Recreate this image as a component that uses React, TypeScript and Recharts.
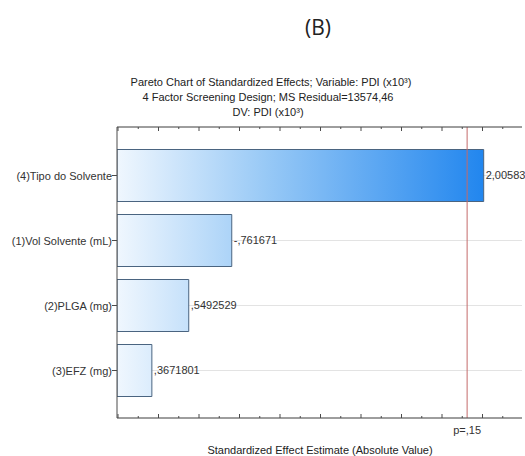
import {
  BarChart,
  Bar,
  XAxis,
  YAxis,
  CartesianGrid,
  ReferenceLine,
  LabelList,
} from 'recharts'

const categories = ['(4)Tipo do Solvente', '(1)Vol Solvente (mL)', '(2)PLGA (mg)', '(3)EFZ (mg)']
const effects = [2.00583, 0.761671, 0.5492529, 0.3671801]
const effectLabels = ['2,00583', '-,761671', ',5492529', ',3671801']
const pCritical = 1.924
const xDomain = [0.195, 2.195]
const xTicks = [0.2, 0.3, 0.4, 0.5, 0.6, 0.7, 0.8, 0.9, 1.0, 1.1, 1.2, 1.3, 1.4, 1.5, 1.6, 1.7, 1.8, 1.9, 2.0, 2.1]

const data = categories.map((name, i) => ({ name, value: effects[i], label: effectLabels[i] }))

const FONT = '"Liberation Sans", Arial, sans-serif'
const AXIS = '#4a4a4a'

const isMajor = (v: number) => Math.round(v * 10) % 2 === 0

// statistica style: no labels, short ticks pointing into the plot
const bottomTick = ({ x, y, payload }: any) => (
  <line x1={x} x2={x} y1={y} y2={y - (isMajor(payload.value) ? 4 : 2)} stroke={AXIS} />
)

const topTick = ({ x, y, payload }: any) => (
  <line x1={x} x2={x} y1={y} y2={y + (isMajor(payload.value) ? 4 : 2)} stroke={AXIS} />
)

const categoryTick = ({ x, y, payload }: any) => (
  <text x={x} y={y} dy={4} textAnchor="end" fill="#333" fontSize={11} fontFamily={FONT}>
    {payload.value}
  </text>
)

function centered(text: any, cx: number, top: number, size: number, family = FONT) {
  return (
    <div
      style={{
        position: 'absolute',
        left: cx - 200,
        width: 400,
        top,
        textAlign: 'center',
        fontFamily: family,
        fontSize: size,
        color: '#222',
        lineHeight: 1,
        whiteSpace: 'nowrap',
      }}
    >
      {text}
    </div>
  )
}

export default function App() {
  return (
    <div style={{ position: 'absolute', left: 0, top: 0, width: 525, height: 456, background: '#fff', overflow: 'hidden' }}>
      {centered('(B)', 318, 17, 21, '"Open Sans", "Liberation Sans", sans-serif')}
      {centered('Pareto Chart of Standardized Effects; Variable: PDI (x10³)', 271, 77, 11)}
      {centered('4 Factor Screening Design; MS Residual=13574,46', 268, 92, 11)}
      {centered('DV: PDI (x10³)', 268, 107, 11)}
      {centered('Standardized Effect Estimate (Absolute Value)', 320, 445, 11)}
      <div style={{ position: 'absolute', left: 0, top: 0 }}>
        <BarChart
          width={525}
          height={456}
          data={data}
          layout="vertical"
          margin={{ top: 126, right: 3, bottom: 37, left: 0 }}
          barCategoryGap="10%"
        >
          <defs>
            <linearGradient id="barFill" gradientUnits="userSpaceOnUse" x1="117" y1="0" x2="490" y2="0">
              <stop offset="0%" stopColor="#f0f7fe" />
              <stop offset="40%" stopColor="#98c9f6" />
              <stop offset="100%" stopColor="#1e84ee" />
            </linearGradient>
          </defs>
          <CartesianGrid horizontal vertical={false} stroke="#e3e3e3" />
          <XAxis
            type="number"
            domain={xDomain}
            allowDataOverflow
            ticks={xTicks}
            interval={0}
            height={1}
            tickSize={0}
            tickMargin={0}
            tickLine={false}
            tick={bottomTick}
            axisLine={{ stroke: AXIS }}
          />
          <XAxis
            xAxisId="top"
            orientation="top"
            type="number"
            domain={xDomain}
            allowDataOverflow
            ticks={xTicks}
            interval={0}
            height={1}
            tickSize={0}
            tickMargin={0}
            tickLine={false}
            tick={topTick}
            axisLine={{ stroke: AXIS }}
          />
          <YAxis
            type="category"
            dataKey="name"
            width={117}
            padding={{ top: 16, bottom: 15 }}
            tickSize={5}
            tickMargin={0}
            tickLine={{ stroke: AXIS }}
            axisLine={{ stroke: AXIS }}
            tick={categoryTick}
          />
          <YAxis
            yAxisId="right"
            orientation="right"
            type="category"
            dataKey="name"
            width={0}
            padding={{ top: 16, bottom: 15 }}
            tick={false}
            tickLine={false}
            axisLine={{ stroke: AXIS }}
          />
          <Bar dataKey="value" fill="url(#barFill)" stroke="#4a6480" strokeWidth={1} isAnimationActive={false}>
            <LabelList dataKey="label" position="right" offset={2} fill="#333" fontSize={11} fontFamily={FONT} />
          </Bar>
          <ReferenceLine
            x={pCritical}
            stroke="#c46b6b"
            strokeWidth={1}
            label={{ value: 'p=,15', position: 'bottom', offset: 8, fill: '#333', fontSize: 11, fontFamily: FONT }}
          />
        </BarChart>
      </div>
    </div>
  )
}
